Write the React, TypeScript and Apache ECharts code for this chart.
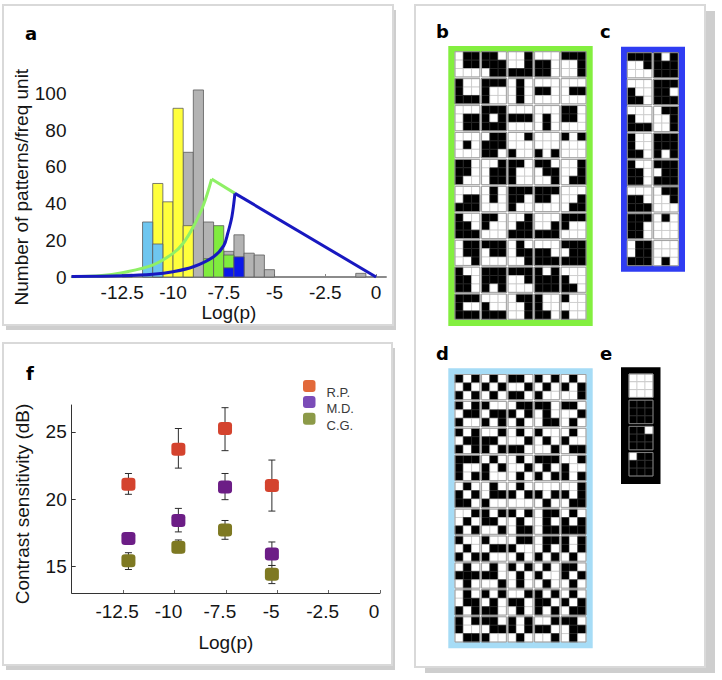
import React, { useEffect, useRef } from "react";
import * as echarts from "echarts";

const FONT = "'Liberation Sans', Arial, Helvetica, sans-serif";

// ---------- Panel a: histogram of pattern probabilities ----------
const binWidth = 0.5;
const grayBinStarts = [-12.5, -9.5, -9, -8.5, -7.5, -7, -6.5, -6, -5.5, -1];
const grayCounts = [1.5, 68, 102, 30, 14, 23, 13, 12, 4, 2];
const yellowBinStarts = [-11, -10.5, -10, -9.5];
const yellowCounts = [51, 41, 92, 28];
const skyBinStarts = [-11.5, -11];
const skyCounts = [30, 18];
const greenBinStarts = [-8.5, -8, -7.5];
const greenCounts = [10, 28, 12];
const blueBinStarts = [-7.5, -7];
const blueCounts = [5, 11];

const greenRiseX = [-15, -13.5, -12.5, -11, -10, -9.5, -9, -8.5, -8.1];
const greenRiseY = [0.2, 0.8, 2.4, 6.5, 12.9, 18.4, 27.4, 39.3, 53.4];
const greenFallX = [-8.1, -6.95];
const greenFallY = [53.4, 45.6];
const blueRiseX = [-15, -12.5, -11, -10, -9, -8, -7.5, -7.3, -7.1, -6.95];
const blueRiseY = [0.3, 0.7, 1.5, 2.9, 5.6, 11.1, 17.1, 24, 32.9, 45.6];
const blueFallX = [-6.95, 0];
const blueFallY = [45.6, 0];

const logTicks = [-12.5, -10, -7.5, -5, -2.5, 0];
const countTicks = [0, 20, 40, 60, 80, 100];

// ---------- Panel f: contrast sensitivity ----------
const fLogP = [-12.24, -9.81, -7.54, -5.26];
const rpMean = [21.1, 23.7, 25.25, 21.0];
const rpLow = [20.35, 22.3, 23.6, 19.1];
const rpHigh = [21.9, 25.25, 26.8, 22.9];
const mdMean = [17.05, 18.4, 20.9, 15.9];
const mdLow = [16.7, 17.55, 19.95, 15.05];
const mdHigh = [17.5, 19.3, 21.9, 16.8];
const cgMean = [15.4, 16.4, 17.7, 14.4];
const cgLow = [14.75, 16.0, 17.0, 13.7];
const cgHigh = [16.0, 16.95, 18.4, 15.05];
const sensTicks = [15, 20, 25];
const legendNames = ["R.P.", "M.D.", "C.G."];

// ---------- Panels b-e: 3x3 binary patterns (row-major, '#' = black) ----------
const patternsB = [
  ".##.##...", "##.###.##", "..#..####", "...##.##.", "###..#..#",
  "#..#..###", "####..#..", ".#..#..#.", "...##....", "....##...",
  "....##.##", "####.####", "...###...", "....#..#.", "##.##....",
  "....#....", ".#######.", "..#...#..", "......#.#", "#.#......",
  "##.##.#..", "..#.##.##", "##.#..#..", "##..##..#", "..#..#.##",
  "....#####", ".#..#....", "#####.#..", "#####....", ".....#.##",
  "#..##.###", "##.#.....", "..#.#####", ".....####", "####.....",
  ".##.##..#", "###.##...", ".#..##..#", "...##.###", "###.#####",
  "#..##.##.", "#######.#", "###..#...", "#.#######", "...#..##.",
  "####..###", "...#..###", ".##..#..#", "#..#..##.", "#.....#..",
];
const patternsC = [
  "###..#...", "#.#######",
  "...#..##.", "#####.###",
  "...#..###", ".##..#..#",
  "#..#..##.", "#######.#",
  "#..##.##.", "###.#####",
  "...##.###", ".##..#...",
  "#####.##.", ".#.......",
  ".##.#####", ".......#.",
];
const patternsD = [
  "#.#.#.#.#", ".#.#.#.#.", "##...###.", "#.#.#.#..", ".#.#.#..#",
  "#.#.###..", "#...###.#", ".###.#.#.", "##..#..##", "##...#.#.",
  "#.#.###.#", "..###.#.#", ".#...###.", "#...#...#", ".#.#...##",
  "####..#.#", ".#.#.##..", ".#...#.#.", "###.#.#.#", "..##..#.#",
  ".#.#.###.", ".#..###..", ".#.#.#...", "...#.#.#.", "..##.#.##",
  "..#.#.#.#", "#.###...#", "#.#.#..##", ".##.#..##", ".#.#.####",
  "#...#.#.#", "#...###..", ".###...#.", ".##.#.#.#", "#.##.#.#.",
  ".#.###.#.", ".#.##...#", "#.#.#..#.", ".#.#...#.", "##.#.#.#.",
  ".#..###.#", "#.#.#.##.", "..###..#.", "#.###.#.#", ".#.#.#.##",
  "#.##...##", "##..###..", "#.##.#.#.", "..###...#", "##..##.#.",
];
const patternsE = [".........", "#########", "##.######", ".########"];

const zip = (xs: number[], ys: number[]) => xs.map((x, i) => [x, ys[i]]);

function histRenderer(color: string) {
  return (_p: any, api: any) => {
    const start = api.value(0);
    const count = api.value(1);
    const p0 = api.coord([start, 0]);
    const p1 = api.coord([start + binWidth, count]);
    return {
      type: "rect",
      shape: { x: p0[0], y: p1[1], width: p1[0] - p0[0], height: p0[1] - p1[1] },
      style: { fill: color, stroke: "#5c5c5c", lineWidth: 0.8 },
    };
  };
}

function patternCells(patterns: string[], cols: number) {
  const out: number[][] = [];
  patterns.forEach((p, i) => {
    const pc = i % cols;
    const pr = Math.floor(i / cols);
    for (let k = 0; k < 9; k++) {
      out.push([pc * 3 + (k % 3), pr * 3 + Math.floor(k / 3), p[k] === "#" ? 1 : 0]);
    }
  });
  return out;
}
function patternBoxes(patterns: string[], cols: number) {
  return patterns.map((_p, i) => [i % cols, Math.floor(i / cols)]);
}
function cellRenderer(gap: number, light: string, dark: string) {
  return (_p: any, api: any) => {
    const x = api.value(0);
    const y = api.value(1);
    const v = api.value(2);
    const gx = x + Math.floor(x / 3) * gap;
    const gy = y + Math.floor(y / 3) * gap;
    const p0 = api.coord([gx, gy]);
    const p1 = api.coord([gx + 1, gy + 1]);
    return {
      type: "rect",
      shape: {
        x: Math.min(p0[0], p1[0]),
        y: Math.min(p0[1], p1[1]),
        width: Math.abs(p1[0] - p0[0]),
        height: Math.abs(p1[1] - p0[1]),
      },
      style: { fill: v ? "#000" : "#fff", stroke: v ? dark : light, lineWidth: 0.7 },
    };
  };
}
function boxRenderer(gap: number, color: string) {
  return (_p: any, api: any) => {
    const gx = api.value(0) * (3 + gap);
    const gy = api.value(1) * (3 + gap);
    const p0 = api.coord([gx, gy]);
    const p1 = api.coord([gx + 3, gy + 3]);
    return {
      type: "rect",
      shape: {
        x: Math.min(p0[0], p1[0]),
        y: Math.min(p0[1], p1[1]),
        width: Math.abs(p1[0] - p0[0]),
        height: Math.abs(p1[1] - p0[1]),
      },
      style: { fill: null, stroke: color, lineWidth: 0.9 },
    };
  };
}
function errRenderer(_p: any, api: any) {
  const x = api.value(0);
  const lo = api.coord([x, api.value(1)]);
  const hi = api.coord([x, api.value(2)]);
  const w = 3.5;
  const st = { stroke: "#2b2b2b", lineWidth: 1 };
  return {
    type: "group",
    children: [
      { type: "line", shape: { x1: lo[0], y1: lo[1], x2: hi[0], y2: hi[1] }, style: st },
      { type: "line", shape: { x1: lo[0] - w, y1: lo[1], x2: lo[0] + w, y2: lo[1] }, style: st },
      { type: "line", shape: { x1: hi[0] - w, y1: hi[1], x2: hi[0] + w, y2: hi[1] }, style: st },
    ],
  };
}

const patternPanels = [
  { pats: patternsB, cols: 5, rows: 10, gap: 0.2, grid: { left: 455, top: 51.7, width: 131, height: 267.6 }, light: "#c4c4c4", dark: "#262626", box: "#9c9c9c" },
  { pats: patternsC, cols: 2, rows: 8, gap: 0.2, grid: { left: 627.3, top: 52.7, width: 51, height: 213 }, light: "#c4c4c4", dark: "#262626", box: "#9c9c9c" },
  { pats: patternsD, cols: 5, rows: 10, gap: 0.2, grid: { left: 455, top: 374.5, width: 131, height: 267.5 }, light: "#c4c4c4", dark: "#262626", box: "#9c9c9c" },
  { pats: patternsE, cols: 1, rows: 4, gap: 0.35, grid: { left: 629, top: 374, width: 24, height: 102 }, light: "#c8c8c8", dark: "#3a3a3a", box: "#8a8a8a" },
];

export default function App() {
  const ref = useRef<HTMLDivElement>(null);
  useEffect(() => {
    if (!ref.current) return;
    const chart = echarts.init(ref.current, undefined, { renderer: "svg" });

    const axisText = { fontSize: 19, color: "#151515", fontFamily: FONT };

    const grids: any[] = [
      { left: 71.5, top: 86.3, width: 314.7, height: 190.7, outerBoundsMode: "none" },
      { left: 71.7, top: 405, width: 308.3, height: 188, outerBoundsMode: "none" },
      ...patternPanels.map((p) => ({ ...p.grid, outerBoundsMode: "none" })),
    ];

    const xAxes: any[] = [
      {
        type: "value", gridIndex: 0, min: -15, max: 0.5,
        axisLine: { onZero: false, lineStyle: { color: "#666", width: 1.5 } },
        axisTick: { inside: true, length: 3, customValues: logTicks, lineStyle: { color: "#888" } },
        axisLabel: { ...axisText, customValues: logTicks, margin: 6 },
        splitLine: { show: false },
        name: "Log(p)", nameLocation: "middle", nameGap: 24, nameTextStyle: axisText,
      },
      {
        type: "value", gridIndex: 1, min: -15, max: 0,
        axisLine: { onZero: false, lineStyle: { color: "#333", width: 1 } },
        axisTick: { inside: true, length: 3, customValues: logTicks, lineStyle: { color: "#666" } },
        axisLabel: { ...axisText, customValues: logTicks, margin: 9, padding: [0, 12, 0, 0] },
        splitLine: { show: false },
        name: "Log(p)", nameLocation: "middle", nameGap: 40, nameTextStyle: axisText,
      },
      ...patternPanels.map((p, i) => ({
        type: "value", gridIndex: i + 2, min: 0, max: p.cols * 3 + (p.cols - 1) * p.gap, show: false,
      })),
    ];
    const yAxes: any[] = [
      {
        type: "value", gridIndex: 0, min: 0, max: 104,
        axisLine: { show: false, onZero: false }, axisTick: { show: false },
        axisLabel: { ...axisText, customValues: countTicks, margin: 5 },
        splitLine: { show: false },
        name: "Number of patterns/freq unit", nameLocation: "middle", nameGap: 41,
        nameTextStyle: { ...axisText, padding: [0, 11, 0, 0] },
      },
      {
        type: "value", gridIndex: 1, min: 13, max: 27,
        axisLine: { show: true, onZero: false, lineStyle: { color: "#333", width: 1 } },
        axisTick: { inside: true, length: 4, customValues: sensTicks, lineStyle: { color: "#333" } },
        axisLabel: { ...axisText, customValues: sensTicks, margin: 5 },
        splitLine: { show: false },
        name: "Contrast sensitivity (dB)", nameLocation: "middle", nameGap: 40,
        nameTextStyle: { ...axisText, padding: [0, 10, 0, 0] },
      },
      ...patternPanels.map((p, i) => ({
        type: "value", gridIndex: i + 2, min: 0, max: p.rows * 3 + (p.rows - 1) * p.gap, inverse: true, show: false,
      })),
    ];

    const hist = (starts: number[], counts: number[], color: string, z: number) => ({
      type: "custom", xAxisIndex: 0, yAxisIndex: 0, z,
      data: zip(starts, counts), renderItem: histRenderer(color), silent: true,
    });
    const curve = (xs: number[], ys: number[], color: string, smooth: boolean) => ({
      type: "line", xAxisIndex: 0, yAxisIndex: 0, z: 10,
      data: zip(xs, ys), showSymbol: false, smooth: smooth ? 0.35 : false,
      lineStyle: { color, width: 3 }, silent: true,
    });

    const series: any[] = [
      hist(grayBinStarts, grayCounts, "#b3b3b3", 3),
      hist(yellowBinStarts, yellowCounts, "#ffff3c", 4),
      hist(greenBinStarts, greenCounts, "#80ec3e", 5),
      hist(skyBinStarts, skyCounts, "#6ec6f0", 6),
      hist(blueBinStarts, blueCounts, "#0a18ea", 7),
      curve(greenRiseX, greenRiseY, "#8ff066", true),
      curve(greenFallX, greenFallY, "#8ff066", false),
      curve(blueRiseX, blueRiseY, "#1818c0", true),
      curve(blueFallX, blueFallY, "#1818c0", false),
    ];

    const groups = [
      { mean: rpMean, low: rpLow, high: rpHigh, color: "#d4432e" },
      { mean: mdMean, low: mdLow, high: mdHigh, color: "#6c1d86" },
      { mean: cgMean, low: cgLow, high: cgHigh, color: "#7e7922" },
    ];
    groups.forEach((g, i) => {
      series.push({
        type: "custom", xAxisIndex: 1, yAxisIndex: 1, z: 3, silent: true,
        data: fLogP.map((x, k) => [x, g.low[k], g.high[k]]),
        renderItem: errRenderer,
      });
      series.push({
        type: "scatter", name: legendNames[i], xAxisIndex: 1, yAxisIndex: 1, z: 5, silent: true,
        data: zip(fLogP, g.mean), symbol: "roundRect", symbolSize: [14, 13],
        itemStyle: { color: g.color, opacity: 1 },
      });
    });

    patternPanels.forEach((p, i) => {
      series.push({
        type: "custom", xAxisIndex: i + 2, yAxisIndex: i + 2, z: 3, silent: true,
        data: patternCells(p.pats, p.cols), renderItem: cellRenderer(p.gap, p.light, p.dark),
      });
      series.push({
        type: "custom", xAxisIndex: i + 2, yAxisIndex: i + 2, z: 4, silent: true,
        data: patternBoxes(p.pats, p.cols), renderItem: boxRenderer(p.gap, p.box),
      });
    });

    const frame = (x: number, y: number, w: number, h: number, sx: number, sy: number) => [
      { type: "rect", z: -10, silent: true, shape: { x: x + sx, y: y + sy, width: w, height: h }, style: { fill: "#cecece" } },
      { type: "rect", z: -9, silent: true, shape: { x, y, width: w, height: h }, style: { fill: "#fff", stroke: "#d9d9d9", lineWidth: 2 } },
    ];
    const border = (x: number, y: number, w: number, h: number, color: string, lw: number) => ({
      type: "rect", z: -8, silent: true,
      shape: { x: x + lw / 2, y: y + lw / 2, width: w - lw, height: h - lw },
      style: { fill: null, stroke: color, lineWidth: lw },
    });
    const letter = (t: string, x: number, y: number) => ({
      type: "text", z: 20, silent: true, x, y,
      style: { text: t, font: "bold 18px 'DejaVu Sans', Arial, sans-serif", fill: "#000", textVerticalAlign: "bottom" },
    });
    const legendColors = ["#e2693a", "#7b4cb8", "#8c9a48"];
    const legendY = [380, 396, 412.7];
    const legendEls: any[] = [];
    legendNames.forEach((n, i) => {
      legendEls.push({
        type: "rect", z: 20, silent: true,
        shape: { x: 303, y: legendY[i], width: 12.5, height: 12, r: 3 },
        style: { fill: legendColors[i] },
      });
      legendEls.push({
        type: "text", z: 20, silent: true, x: 326.5, y: legendY[i] + 12.5,
        style: { text: n, font: `13px ${FONT}`, fill: "#3a3a3a", textVerticalAlign: "middle" },
      });
    });

    const graphic: any[] = [
      ...frame(3, 5, 390, 320, 3, 5),
      ...frame(3, 343, 389, 322, 3, 5),
      ...frame(415, 5, 290, 662, 10, 6),
      border(448.3, 46, 144.4, 280, "#83ef3f", 6.5),
      border(621, 46.7, 64, 225, "#2f3cf2", 6.3),
      border(448.3, 368.3, 144.4, 280, "#a6dcf6", 6.5),
      { type: "rect", z: -8, silent: true, shape: { x: 621, y: 367.3, width: 39.5, height: 116.7 }, style: { fill: "#000" } },
      letter("a", 25, 42),
      letter("f", 26, 382),
      letter("b", 436, 40.5),
      letter("c", 600, 40.5),
      letter("d", 436, 362),
      letter("e", 600, 362),
      ...legendEls,
    ];

    chart.setOption({
      animation: false,
      backgroundColor: "#fff",
      textStyle: { fontFamily: FONT },
      grid: grids,
      xAxis: xAxes,
      yAxis: yAxes,
      series,
      graphic,
    });
    return () => chart.dispose();
  }, []);
  return (
    <div
      ref={ref}
      style={{ position: "absolute", left: 0, top: 0, width: 722, height: 680 }}
    />
  );
}
